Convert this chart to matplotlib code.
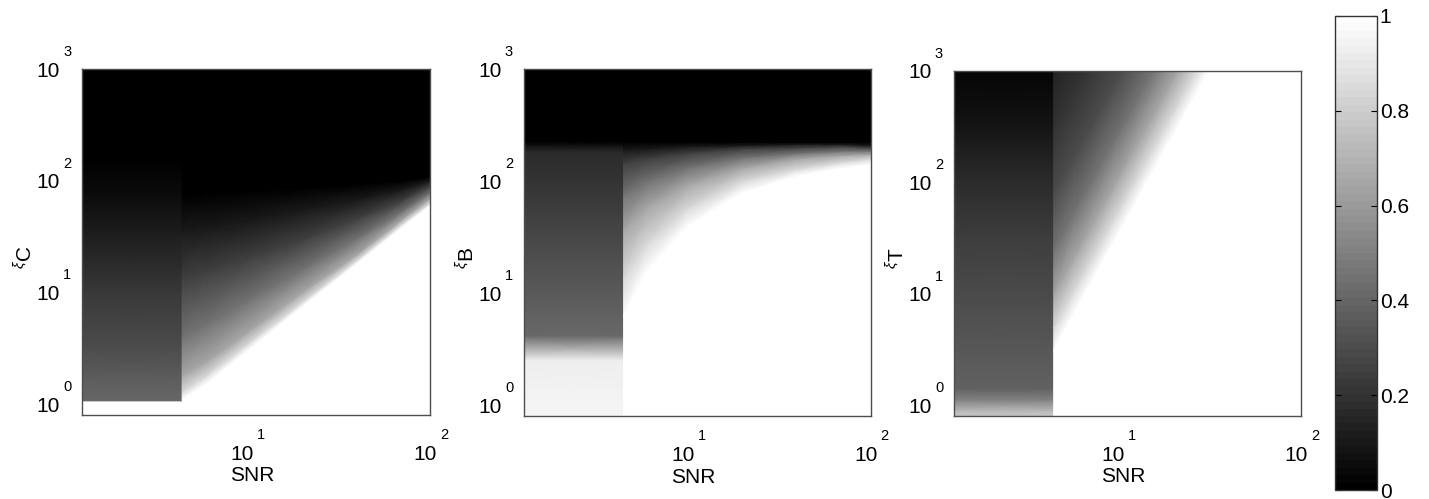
import numpy as np
import matplotlib.pyplot as plt
from matplotlib.ticker import NullLocator
from matplotlib.colors import Normalize

plt.rcParams['font.family'] = ['Liberation Sans', 'DejaVu Sans']
plt.rcParams['mathtext.fontset'] = 'custom'
plt.rcParams['mathtext.rm'] = 'Liberation Sans'
plt.rcParams['mathtext.it'] = 'Liberation Sans:italic'

# axis ranges shared by the three maps
snr_lim = (1.27, 100)
xi_lim = (0.8, 1000)
snr_edge = 4.45          # end of the flat low-SNR block
x_ticks = [10, 100]
y_ticks = [1, 10, 100, 1000]
cbar_ticks = [0, 0.2, 0.4, 0.6, 0.8, 1]
cbar_labels = ['0', '0.2', '0.4', '0.6', '0.8', '1']

# ---- xi_C ----
# low-SNR block: grey value against log10(xi)
c_left_logxi = [0.03, 0.2, 0.5, 1.0, 1.5, 1.9, 2.2, 3.1]
c_left_val = [0.40, 0.37, 0.30, 0.22, 0.12, 0.04, 0.0, 0.0]
# rest of the map: log10(xi) of each grey level (rows) at each SNR (columns)
c_snr = [4.45, 6, 10, 20, 40, 70, 100]
c_levels = [1.0, 1.0, 0.85, 0.65, 0.45, 0.25, 0.10, 0.0, 0.0]
c_right_logxi = [
    [0.03, 0.03, 0.03, 0.03, 0.03, 0.03, 0.03],
    [0.04, 0.18, 0.47, 0.87, 1.26, 1.58, 1.78],
    [0.11, 0.25, 0.53, 0.91, 1.29, 1.61, 1.80],
    [0.26, 0.38, 0.64, 1.00, 1.34, 1.65, 1.84],
    [0.60, 0.71, 0.92, 1.20, 1.48, 1.72, 1.89],
    [1.12, 1.18, 1.30, 1.47, 1.66, 1.82, 1.95],
    [1.55, 1.58, 1.64, 1.74, 1.83, 1.92, 2.00],
    [1.87, 1.89, 1.91, 1.94, 1.97, 2.00, 2.04],
    [3.10, 3.10, 3.10, 3.10, 3.10, 3.10, 3.10],
]

# ---- xi_B ----
b_left_logxi = [-0.1, 0.40, 0.62, 1.0, 1.5, 2.0, 2.26, 2.33, 2.36, 3.1]
b_left_val = [0.96, 0.93, 0.41, 0.35, 0.28, 0.20, 0.17, 0.05, 0.0, 0.0]
b_snr = [4.45, 6, 10, 20, 40, 70, 100]
b_levels = [1.0, 1.0, 0.85, 0.65, 0.45, 0.25, 0.10, 0.0, 0.0]
b_right_logxi = [
    [-0.1, -0.1, -0.1, -0.1, -0.1, -0.1, -0.1],
    [0.80, 1.20, 1.60, 1.90, 2.05, 2.12, 2.15],
    [1.14, 1.45, 1.76, 2.00, 2.11, 2.17, 2.20],
    [1.57, 1.77, 1.97, 2.12, 2.20, 2.23, 2.24],
    [1.88, 2.00, 2.12, 2.21, 2.25, 2.27, 2.27],
    [2.16, 2.20, 2.25, 2.29, 2.30, 2.31, 2.30],
    [2.28, 2.29, 2.31, 2.32, 2.33, 2.33, 2.32],
    [2.35, 2.35, 2.35, 2.35, 2.35, 2.35, 2.35],
    [3.10, 3.10, 3.10, 3.10, 3.10, 3.10, 3.10],
]

# ---- xi_T ----
t_left_logxi = [-0.1, -0.05, 0.05, 0.15, 0.5, 1.0, 1.5, 2.0, 2.5, 3.0, 3.1]
t_left_val = [0.78, 0.72, 0.50, 0.38, 0.34, 0.29, 0.24, 0.17, 0.08, 0.02, 0.02]
t_snr = [4.45, 6, 10, 20, 40, 100]
t_levels = [1.0, 1.0, 0.85, 0.65, 0.45, 0.30, 0.20, 0.12, 0.05]
t_right_logxi = [
    [-0.1, -0.1, -0.1, -0.1, -0.1, -0.1],
    [0.49, 0.88, 1.53, 2.42, 3.31, 4.49],
    [0.69, 1.08, 1.73, 2.62, 3.51, 4.69],
    [0.99, 1.38, 2.03, 2.92, 3.81, 4.99],
    [1.39, 1.78, 2.43, 3.32, 4.21, 5.39],
    [1.89, 2.28, 2.93, 3.82, 4.71, 5.89],
    [2.49, 2.88, 3.53, 4.42, 5.31, 6.49],
    [3.19, 3.58, 4.23, 5.12, 6.01, 7.19],
    [3.99, 4.38, 5.03, 5.92, 6.81, 7.99],
]

panels = [
    ('C', c_left_logxi, c_left_val, c_snr, c_levels, c_right_logxi),
    ('B', b_left_logxi, b_left_val, b_snr, b_levels, b_right_logxi),
    ('T', t_left_logxi, t_left_val, t_snr, t_levels, t_right_logxi),
]

# axes boxes in figure fraction (left, bottom, width, height)
boxes = [
    (0.0576, 0.1683, 0.2433, 0.6934),
    (0.3667, 0.1663, 0.2426, 0.6948),
    (0.6676, 0.1663, 0.2428, 0.6920),
]

cmap = plt.get_cmap('gray')
fig = plt.figure(figsize=(14.29, 4.99), dpi=100)

for (sub, l_logxi, l_val, snr, levels, r_logxi), box in zip(panels, boxes):
    ax = fig.add_axes(box)
    ax.set_xscale('log')
    ax.set_yscale('log')

    # flat block at low SNR
    lx, ly = np.meshgrid([1.2, snr_edge], 10 ** np.array(l_logxi))
    lz = np.repeat(np.array(l_val)[:, None], 2, axis=1)
    ax.pcolormesh(lx, ly, lz, shading='gouraud', cmap=cmap, vmin=0, vmax=1)

    # rest of the map, mesh rows follow the grey levels
    ry = 10 ** np.array(r_logxi)
    rx = np.tile(np.array(snr, dtype=float), (len(levels), 1))
    rz = np.repeat(np.array(levels)[:, None], len(snr), axis=1)
    ax.pcolormesh(rx, ry, rz, shading='gouraud', cmap=cmap, vmin=0, vmax=1)

    ax.set_xlim(snr_lim)
    ax.set_ylim(xi_lim)
    ax.set_xticks(x_ticks)
    ax.set_yticks(y_ticks)
    ax.xaxis.set_minor_locator(NullLocator())
    ax.yaxis.set_minor_locator(NullLocator())
    ax.tick_params(length=0, labelbottom=False, labelleft=False)
    for sp in ax.spines.values():
        sp.set_color('0.3')
        sp.set_linewidth(1.0)

    # MATLAB-style power labels: base and raised exponent
    for v in x_ticks:
        e = int(round(np.log10(v)))
        ax.annotate('10', xy=(v, 0), xycoords=('data', 'axes fraction'),
                    xytext=(-5, -39), textcoords='offset pixels',
                    ha='center', va='center', fontsize=15, annotation_clip=False)
        ax.annotate(str(e), xy=(v, 0), xycoords=('data', 'axes fraction'),
                    xytext=(14, -20), textcoords='offset pixels',
                    ha='center', va='center', fontsize=10.5, annotation_clip=False)
    for v in y_ticks:
        e = int(round(np.log10(v)))
        ax.annotate('10', xy=(0, v), xycoords=('axes fraction', 'data'),
                    xytext=(-34, -2), textcoords='offset pixels',
                    ha='center', va='center', fontsize=15, annotation_clip=False)
        ax.annotate(str(e), xy=(0, v), xycoords=('axes fraction', 'data'),
                    xytext=(-15, 17), textcoords='offset pixels',
                    ha='center', va='center', fontsize=10.5, annotation_clip=False)

    ax.set_xlabel('SNR', fontsize=15, va='center')
    ax.xaxis.set_label_coords(0.488, -0.176)
    ax.set_ylabel(r'${}^{\xi}\mathregular{%s}$' % sub, fontsize=15, va='center')
    ax.yaxis.set_label_coords(-0.165, 0.457)

# colour bar with the 64-step grey map
cax = fig.add_axes((0.9342, 0.018, 0.0294, 0.95))
sm = plt.cm.ScalarMappable(norm=Normalize(0, 1), cmap=plt.get_cmap('gray', 64))
cb = fig.colorbar(sm, cax=cax, ticks=cbar_ticks)
cb.ax.set_yticklabels(cbar_labels)
cb.ax.tick_params(direction='in', left=True, right=True, length=4,
                  width=0.8, labelsize=15, pad=2)
cb.outline.set_edgecolor('0.2')
cb.outline.set_linewidth(1.0)

fig.savefig('out.png', dpi=100)
